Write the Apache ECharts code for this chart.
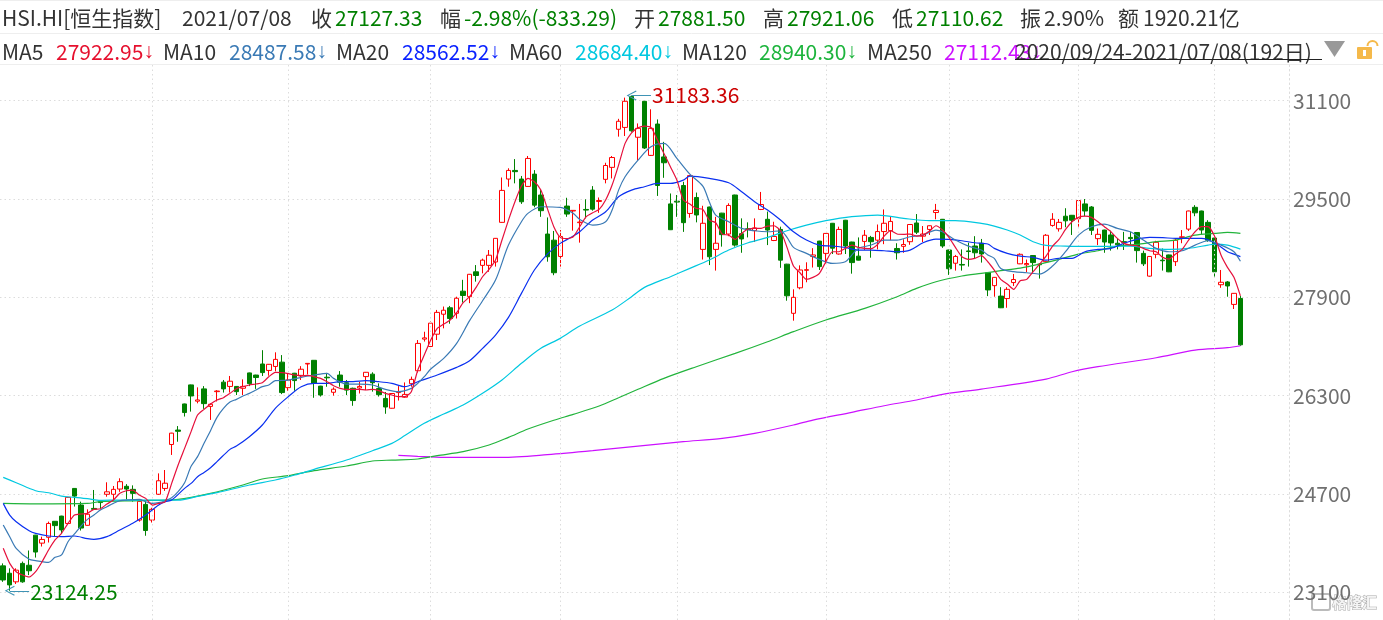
<!DOCTYPE html>
<html>
<head>
<meta charset="utf-8">
<title>HSI.HI 恒生指数</title>
<script src="https://cdn.jsdelivr.net/npm/echarts@6/dist/echarts.min.js"></script>
<style>
html,body{margin:0;padding:0;background:#fff;overflow:hidden}
#chart{width:1383px;height:620px}
</style>
</head>
<body>
<div id="chart"></div>
<script>
// Hang Seng Index daily candles, 2020/09/24 - 2021/07/08, with moving averages.

const holidays = ['2020-10-01','2020-10-02','2020-10-13','2020-10-26','2020-12-25','2021-01-01','2021-02-12','2021-02-15','2021-04-02','2021-04-05','2021-04-06','2021-05-19','2021-06-14','2021-07-01'];
const monthFirstDays = ['2020/11/02','2020/12/01','2021/01/04','2021/02/01','2021/03/01','2021/04/01','2021/05/03','2021/06/01','2021/07/02'];
const yTicks = [23100,24700,26300,27900,29500,31100];

// open, close, low, high
const candles = [
[23530,23300,23270,23570],[23410,23220,23124.25,23490],[23270,23460,23235,23490],[23570,23270,23255,23600],[23540,23450,23380,23780],
[24030,23755,23665,24035],[23900,23960,23845,24005],[23995,24220,23910,24250],[24255,24185,24015,24260],[24340,24115,24050,24345],
[24220,24645,24210,24650],[24790,24665,24495,24795],[24520,24145,24105,24575],[24190,24370,24185,24450],[24465,24450,24440,24765],
[24575,24560,24450,24590],[24695,24735,24655,24890],[24695,24775,24590,24830],[24780,24900,24735,24955],[24825,24780,24610,24860],
[24775,24710,24575,24840],[24275,24580,24250,24610],[24530,24105,24020,24600],[24275,24450,24235,24475],[24695,24915,24685,25035],
[24790,24875,24750,25090],[25505,25690,25335,25695],[25740,25720,25550,25805],[26165,26025,25960,26170],[26475,26295,26040,26480],
[26210,26230,26175,26435],[26410,26170,26085,26455],[26125,26160,25905,26175],[26365,26375,26205,26390],[26520,26410,26350,26555],
[26450,26535,26350,26620],[26450,26365,26310,26455],[26420,26450,26310,26565],[26670,26495,26455,26675],[26635,26595,26410,26640],
[26815,26675,26620,27040],[26710,26810,26625,26815],[26775,26890,26695,27005],[26845,26350,26325,26960],[26430,26555,26380,26665],
[26665,26545,26380,26670],[26630,26730,26555,26780],[26815,26825,26645,26830],[26875,26500,26265,26880],[26455,26310,26285,26460],
[26600,26590,26445,26670],[26355,26405,26300,26435],[26635,26520,26445,26700],[26510,26390,26310,26555],[26420,26220,26135,26430],
[26425,26450,26335,26525],[26610,26680,26390,26685],[26650,26510,26365,26680],[26415,26315,26285,26500],[26255,26115,26005,26360],
[26095,26335,26090,26340],[26350,26365,26220,26455],[26275,26320,26265,26515],[26495,26565,26445,26610],[26705,27150,26675,27205],
[27220,27240,27180,27340],[27100,27480,27090,27510],[27300,27655,27205,27695],[27625,27690,27395,27750],[27730,27555,27470,27760],
[27640,27885,27555,27910],[28000,27930,27815,28185],[27910,28275,27805,28280],[28315,28255,28155,28425],[28420,28505,28290,28530],
[28420,28585,28315,28670],[28475,28860,28400,28865],[29120,29640,29115,29850],[29825,29965,29700,30000],[29965,29945,29755,30150],
[29825,29455,29420,29875],[29705,30160,29700,30200],[29905,29400,29365,29970],[29565,29310,29210,29645],[28930,28560,28480,29200],
[28830,28300,28260,28980],[28565,28890,28400,28995],[29385,29255,29210,29520],[29305,29315,28985,29320],[29115,29125,28790,29420],
[29330,29320,29185,29495],[29645,29335,29310,29710],[29460,29475,29275,29525],[29820,30045,29755,30090],[30015,30175,29835,30200],
[30635,30765,30515,30805],[30665,31090,30525,31150],[31170,30610,30595,31183.36],[30505,30650,30125,30730],[31090,30330,30315,31095],
[30210,30650,30200,30960],[30720,29720,29550,30795],[30185,30090,29845,30430],[29420,29000,28995,29590],[29465,29450,29210,29565],
[29720,29115,28965,29780],[29265,29880,29195,29890],[29525,29240,29120,29605],[28680,29105,28515,29390],[29370,28560,28425,29375],
[28680,28780,28335,29210],[29270,28920,28725,29275],[28930,29395,28895,29430],[29565,28750,28725,29570],[28935,28850,28625,29185],
[29015,29005,28875,29120],[28985,29030,28800,29185],[29330,29410,29320,29615],[29170,28995,28750,29295],[28825,28890,28815,29130],
[29005,28505,28380,29050],[28440,27925,27845,28445],[27640,27900,27520,28030],[28055,28345,28030,28420],[28340,28350,28145,28470],
[28565,28590,28385,28700],[28815,28400,28345,28820],[28615,28940,28450,28945],[29105,28700,28605,29110],[28605,29005,28595,29050],
[29155,28735,28605,29160],[28800,28465,28285,28805],[28570,28505,28500,28875],[28810,28910,28670,28995],[28875,28805,28545,28900],
[28830,28970,28680,29085],[28970,29105,28765,29330],[28985,29135,28830,29210],[28695,28625,28515,28780],[28730,28760,28625,28845],
[28805,29085,28755,29090],[29110,28960,28930,29255],[28895,28930,28800,29060],[29005,29065,28915,29070],[29280,29315,29170,29420],
[29170,28735,28705,29175],[28670,28365,28265,28675],[28455,28565,28335,28590],[28435,28425,28335,28680],[28655,28645,28400,28790],
[28735,28625,28535,28895],[28780,28605,28465,28850],[28300,28020,27920,28305],[28090,28225,27910,28230],[27920,27730,27725,28065],
[27880,28030,27730,28065],[28140,28190,28085,28280],[28445,28600,28440,28615],[28430,28450,28310,28515],[28580,28465,28290,28585],
[28440,28430,28205,28455],[28480,28910,28475,28930],[29070,29170,29050,29270],[29015,29120,28970,29175],[29220,29145,29040,29350],
[29235,29155,28915,29240],[29180,29475,29050,29480],[29420,29305,29220,29500],[29370,28990,28915,29385],[28855,28925,28750,29020],
[28995,28800,28625,29000],[28915,28785,28660,28985],[28780,28755,28680,28860],[28805,28795,28670,28965],[28875,28855,28740,28965],
[28955,28660,28465,28960],[28615,28445,28410,28660],[28245,28565,28235,28570],[28600,28795,28535,28820],[28505,28495,28335,28695],
[28590,28315,28310,28595],[28480,28830,28410,28860],[28875,28885,28780,28995],[29010,29305,28980,29310],[29365,29275,29220,29400],
[29305,28995,28925,29310],[29120,28830,28805,29155],[28865,28315,28225,28870],[28105,28145,28055,28345],[28150,28085,27910,28165],
[27785,27965,27710,27970],[27881.5,27127.33,27110.62,27921.06]
];

const ma5 = [
23815,23571,23435,23381,23349,23435,23598,23788,23951,24059,
24222,24357,24374,24384,24450,24460,24536,24601,24710,24753,
24764,24683,24628,24520,24547,24574,24872,25171,25442,25714,
25985,26077,26164,26229,26267,26337,26413,26446,26473,26489,
26511,26608,26679,26674,26657,26636,26619,26630,26608,26581,
26527,26462,26419,26403,26403,26403,26392,26403,26381,26337,
26310,26283,26283,26364,26717,26961,27205,27395,27465,27530,
27650,27812,27910,28062,28235,28355,28507,28832,29157,29456,
29711,29835,29781,29645,29347,29049,28875,28854,28886,29049,
29212,29277,29331,29483,29727,30052,30405,30578,30660,30687,
30665,30459,30242,30025,29808,29483,29418,29347,29331,29157,
29114,28929,28913,28842,28940,29011,29022,29022,29060,29065,
28984,28713,28409,28300,28192,28225,28290,28480,28642,28642,
28696,28751,28713,28696,28691,28761,28897,28984,28930,28924,
28930,28897,28913,28978,29065,28995,28876,28713,28561,28517,
28534,28577,28479,28344,28192,28116,28029,28170,28192,28317,
28441,28572,28734,28843,29005,29130,29201,29222,29201,29130,
29049,28967,28859,28778,28750,28740,28696,28658,28642,28550,
28523,28604,28680,28832,28967,29049,29049,28897,28588,28387,
28225,27922.95
];

// Slower averages are held as [day index, value] readings.
const ma10 = [[0,24195],[1,24005],[2,23815],[4,23636],[5,23615],[7,23587],[8,23669],[9,23707],[10,23923],[11,24049],[12,24178],[13,24287],[14,24357],[15,24439],[16,24493],[17,24547],[18,24590],[19,24601],[21,24612],[22,24574],[23,24547],[24,24558],[25,24590],[26,24639],[27,24737],[28,24883],[29,25150],[30,25307],[31,25524],[32,25730],[33,25947],[34,26093],[35,26196],[36,26240],[37,26294],[38,26337],[39,26392],[40,26446],[41,26473],[42,26543],[44,26554],[46,26598],[48,26636],[50,26663],[51,26581],[53,26489],[55,26489],[57,26473],[59,26402],[61,26364],[63,26419],[64,26500],[65,26608],[66,26733],[68,26907],[70,27151],[72,27520],[74,27845],[76,28181],[78,28750],[80,29130],[81,29266],[83,29374],[86,29363],[88,29266],[89,29168],[91,29076],[93,29130],[94,29320],[95,29645],[96,29862],[98,30133],[100,30350],[102,30405],[104,30161],[106,29905],[108,29710],[109,29455],[110,29238],[112,29130],[114,29021],[116,28983],[118,28967],[120,28983],[121,28875],[122,28713],[124,28615],[126,28517],[128,28452],[130,28479],[131,28588],[132,28696],[134,28751],[136,28832],[138,28832],[140,28886],[142,28913],[144,28994],[145,28967],[147,28832],[149,28734],[151,28669],[152,28588],[153,28534],[154,28371],[156,28317],[158,28300],[160,28279],[162,28409],[164,28642],[166,28913],[168,29049],[170,29092],[172,29022],[174,28967],[176,28832],[178,28696],[180,28642],[182,28658],[184,28750],[186,28821],[188,28750],[190,28642],[191,28487.58]];

const ma20 = [[0,24547],[1,24357],[2,24249],[4,24102],[5,24059],[7,24016],[9,24005],[11,24016],[13,23972],[14,23961],[16,24005],[18,24113],[20,24222],[22,24357],[24,24520],[25,24574],[26,24601],[28,24791],[29,24872],[30,24980],[31,25050],[32,25128],[33,25226],[35,25426],[36,25480],[38,25632],[40,25822],[42,26093],[44,26283],[46,26446],[48,26500],[50,26500],[52,26527],[54,26527],[56,26543],[58,26527],[60,26500],[62,26446],[64,26527],[67,26636],[70,26760],[72,26868],[74,27069],[76,27286],[78,27574],[80,27964],[82,28344],[84,28604],[86,28778],[88,28897],[89,28967],[91,29157],[93,29293],[95,29537],[97,29645],[99,29700],[101,29754],[103,29754],[105,29808],[106,29873],[109,29835],[112,29764],[114,29618],[116,29455],[118,29320],[120,29157],[122,28967],[124,28832],[126,28750],[128,28734],[130,28712],[132,28669],[134,28669],[136,28658],[138,28642],[140,28669],[142,28788],[144,28848],[146,28842],[148,28821],[150,28788],[152,28767],[153,28696],[155,28615],[157,28571],[159,28550],[161,28506],[163,28534],[165,28534],[167,28642],[169,28680],[171,28696],[173,28778],[175,28843],[177,28875],[179,28870],[181,28859],[183,28859],[185,28859],[187,28788],[189,28642],[190,28604],[191,28562.52]];

const ma60 = [[0,24970],[2,24883],[5,24753],[7,24720],[9,24666],[11,24645],[13,24623],[15,24596],[18,24601],[21,24601],[24,24601],[27,24600],[30,24660],[33,24721],[38,24846],[42,24927],[45,25008],[48,25101],[53,25252],[57,25404],[60,25523],[62,25650],[65,25850],[68,26000],[71,26147],[74,26338],[77,26555],[80,26826],[83,27070],[86,27232],[89,27433],[94,27693],[97,27910],[99,28062],[103,28236],[106,28371],[109,28507],[112,28670],[115,28789],[118,28876],[121,28984],[124,29076],[127,29147],[131,29212],[135,29239],[139,29185],[143,29147],[147,29147],[151,29103],[153,29060],[155,28995],[157,28913],[159,28805],[161,28745],[164,28734],[167,28729],[170,28729],[174,28734],[177,28696],[180,28680],[183,28696],[186,28750],[187,28767],[189,28750],[191,28684.4]];

const ma120 = [[0,24547],[5,24540],[13,24547],[15,24575],[21,24591],[27,24613],[32,24710],[37,24846],[40,24943],[44,24998],[48,25079],[53,25155],[57,25236],[60,25252],[64,25269],[67,25323],[71,25388],[75,25496],[78,25621],[81,25757],[85,25900],[88,25995],[92,26131],[95,26265],[98,26403],[102,26582],[107,26771],[113,26988],[118,27178],[122,27341],[127,27531],[133,27721],[138,27910],[141,28046],[144,28154],[148,28247],[151,28290],[154,28333],[157,28376],[160,28441],[163,28517],[166,28604],[169,28658],[172,28734],[175,28761],[178,28805],[181,28832],[184,28913],[187,28940],[189,28957],[191,28940.3]];

const ma250 = [[61,25328],[64,25312],[68,25296],[77,25296],[84,25339],[91,25404],[98,25480],[105,25551],[111,25605],[116,25686],[122,25822],[125,25903],[131,26028],[136,26136],[141,26229],[145,26321],[151,26407],[161,26570],[165,26689],[169,26771],[178,26917],[184,27042],[189,27080],[191,27112.43]];

const highest = { day: 97, value: 31183.36 };
const lowest = { day: 1, value: 23124.25 };

const quoteLabels = ['HSI.HI[恒生指数]','2021/07/08','收','27127.33','幅','-2.98%(-833.29)','开','27881.50','高','27921.06','低','27110.62','振','2.90%','额','1920.21亿'];
const maNames = ['MA5','MA10','MA20','MA60','MA120','MA250'];
const maLatest = ['27922.95','28487.58','28562.52','28684.40','28940.30','27112.43'];
const rangeLabel = '2020/09/24-2021/07/08(192日)';

// Trading days, plus a short empty stretch on the right of the last candle.
function buildCategories() {
  const out = [];
  const skip = new Set(holidays);
  for (let t = Date.UTC(2020, 8, 24); t <= Date.UTC(2021, 6, 8); t += 864e5) {
    const d = new Date(t);
    const iso = d.toISOString().slice(0, 10);
    if (d.getUTCDay() === 0 || d.getUTCDay() === 6 || skip.has(iso)) continue;
    out.push(iso.replace(/-/g, '/'));
  }
  for (let k = 0; k < 7; k++) out.push('+' + k);
  return out;
}
const categories = buildCategories();

const RED = '#ff0000', GREEN = '#008000', GRID = '#dcdcdc';
const FONT = '"Noto Sans CJK SC", "Noto Sans", sans-serif';
const INK = '#333333';
const quoteX = [2,182,311,335,440,464,634,658,763,787,892,916,1020,1044,1118,1143];
const quoteColor = [INK,INK,INK,GREEN,INK,GREEN,INK,GREEN,INK,GREEN,INK,GREEN,INK,INK,INK,INK];
const maNameX = [2,163,336,509,682,867];
const maValueX = [56,229,402,575,759,944];
const maColor = ['#e6102e','#3a7ab5','#0a22ff','#00c8e0','#1cb43c','#cc10ff'];
const lineColor = ['#e6103c','#3a7ab5','#0a30f0','#00c8e0','#22b43c','#cc10ff'];

function headerText(text, x, y, fill) {
  return { type:'text', silent:true, x, y, style:{ text, fill, font:'21px ' + FONT, textVerticalAlign:'middle' } };
}
// Latest average value followed by a narrow falling arrow.
function maValueText(value, x, y, fill) {
  return { type:'text', silent:true, x, y, style:{
    text:'{v|' + value + '}{a|↓}', fill, textVerticalAlign:'middle',
    rich:{ v:{ font:'21px ' + FONT, fill }, a:{ font:'21px "Liberation Sans"', fill } } } };
}
function rule(y) {
  return { type:'line', silent:true, shape:{x1:0,y1:y,x2:1383,y2:y}, style:{stroke:'#eeeeee',lineWidth:1} };
}
const decorations = [
  rule(0.5), rule(33.5), rule(64.5),
  ...quoteLabels.map((t,i) => headerText(t, quoteX[i], 18, quoteColor[i])),
  ...maNames.map((t,i) => headerText(t, maNameX[i], 52, INK)),
  ...maLatest.map((t,i) => maValueText(t, maValueX[i], 52, maColor[i])),
  headerText(rangeLabel, 1015, 52, INK),
  { type:'line', silent:true, shape:{x1:1015,y1:59.5,x2:1322,y2:59.5}, style:{stroke:'#222',lineWidth:1} },
  { type:'polygon', silent:true, shape:{points:[[1324,41],[1345,41],[1334.5,57]]}, style:{fill:'#999999'} },
  { type:'rect', silent:true, shape:{x:1357,y:47,width:15,height:12,r:1}, style:{fill:'#f5b94a'} },
  { type:'rect', silent:true, shape:{x:1363,y:50,width:3,height:6}, style:{fill:'#fff'} },
  { type:'arc', silent:true, shape:{cx:1372.5,cy:46,r:5,startAngle:Math.PI,endAngle:Math.PI*2}, style:{stroke:'#f5b94a',fill:'none',lineWidth:2} },
  { type:'rect', silent:true, shape:{x:1312,y:594,width:18,height:16,r:2}, style:{fill:'rgba(255,255,255,0.6)',stroke:'#bbbbbb',lineWidth:2} },
  { type:'text', silent:true, x:1332, y:602, style:{ text:'格隆汇', font:'bold 15px ' + FONT, fill:'#f4f4f4', stroke:'#aaaaaa', lineWidth:1, textVerticalAlign:'middle' } }
];

const CHEVRON = 'path://M0,10 L5,0 L10,10 L9,10.6 L5,2.2 L1,10.6 Z';
function extremeMark(point, endDay, color, dy) {
  return [
    { coord:[point.day, point.value], symbol:CHEVRON, symbolSize:10,
      lineStyle:{color:'#3f93b5',width:1,type:'solid'},
      label:{show:true,position:'end',distance:1,offset:[0,dy],formatter:point.value.toFixed(2),color,fontSize:21,fontFamily:FONT} },
    { coord:[endDay, point.value], symbol:'none' }
  ];
}
function averageLine(name, data, color, z, smooth) {
  return { name, type:'line', data, z, smooth, showSymbol:false, symbol:'none', silent:true, connectNulls:true, animation:false,
    lineStyle:{color,width:1.2}, itemStyle:{color}, emphasis:{disabled:true} };
}

const chart = echarts.init(document.getElementById('chart'), null, { renderer:'canvas' });
chart.setOption({
  animation:false,
  backgroundColor:'#ffffff',
  graphic:{ elements: decorations },
  grid:{ left:-1.24, right:94, top:64, bottom:0, containLabel:false },
  xAxis:{ type:'category', data:categories, boundaryGap:true,
    axisLine:{show:false}, axisTick:{show:false}, axisLabel:{show:false}, splitLine:{show:false} },
  yAxis:{ type:'value', position:'right', scale:true, min:22649, max:31697,
    axisLine:{show:true,lineStyle:{color:GRID,type:[1.5,3]}},
    axisTick:{show:false,customValues:yTicks},
    axisLabel:{customValues:yTicks,margin:4,color:'#707070',fontSize:21,fontFamily:FONT,formatter:v => String(v)},
    splitLine:{show:true,lineStyle:{color:GRID,type:[1.5,3]}} },
  series:[
    { name:'months', type:'line', data:[], z:1, silent:true, animation:false,
      markLine:{ silent:true, symbol:'none', animation:false, label:{show:false},
        lineStyle:{color:GRID,width:1,type:[1.5,3]},
        data: monthFirstDays.map(d => ({xAxis:d})) } },
    { name:'K', type:'candlestick', data:candles, barWidth:5, z:2, silent:true, animation:false,
      itemStyle:{ color:'#ffffff', color0:GREEN, borderColor:RED, borderColor0:GREEN, borderWidth:1 },
      markLine:{ silent:true, animation:false, symbol:'none',
        data:[ extremeMark(highest, 100, '#cc0000', -1), extremeMark(lowest, 4, GREEN, 1) ] } },
    averageLine(maNames[5], ma250, lineColor[5], 3, 0.3),
    averageLine(maNames[4], ma120, lineColor[4], 4, 0.3),
    averageLine(maNames[3], ma60, lineColor[3], 5, 0.3),
    averageLine(maNames[2], ma20, lineColor[2], 6, 0.3),
    averageLine(maNames[1], ma10, lineColor[1], 7, 0.3),
    averageLine(maNames[0], ma5, lineColor[0], 8, 0.2)
  ]
});
</script>
</body>
</html>
